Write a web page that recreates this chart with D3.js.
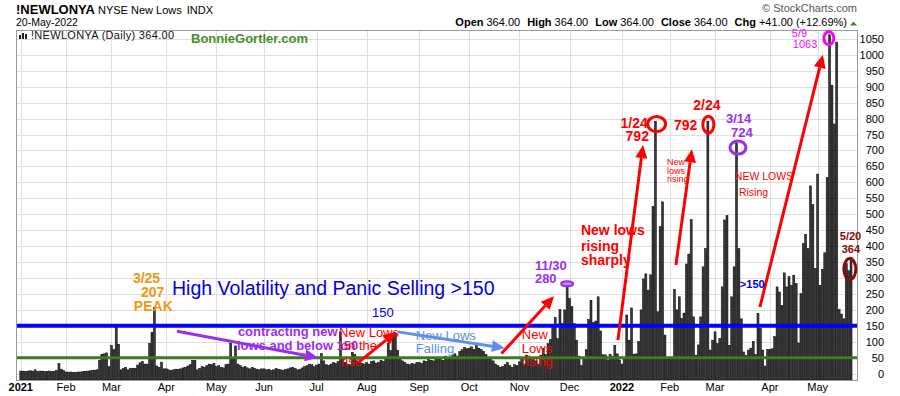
<!DOCTYPE html>
<html>
<head>
<meta charset="utf-8">
<title>!NEWLONYA NYSE New Lows</title>
<script src="https://cdn.jsdelivr.net/npm/d3@7"></script>
<style>
  body { margin: 0; background: #fff; }
  svg { display: block; font-family: "Liberation Sans", Arial, sans-serif; }
</style>
</head>
<body>
<svg width="900" height="396"></svg>
<script>
// daily NYSE new lows, one array per month
var jan21 = [8, 8, 7, 8, 9, 8, 12, 7, 8, 8, 6, 7, 8, 7, 7, 10, 32, 14, 10];
var feb21 = [5, 5, 5, 4, 4, 5, 5, 6, 7, 8, 9, 10, 11, 12, 42, 61, 62, 65, 22];
var mar21 = [88, 75, 148, 92, 12, 16, 20, 12, 17, 17, 17, 27, 34, 38, 30, 30, 95, 130, 207, 24, 20, 36, 15];
var apr21 = [15, 12, 10, 12, 14, 13, 15, 18, 20, 24, 28, 42, 42, 12, 16, 22, 20, 25, 30, 28, 32];
var may21 = [22, 25, 20, 18, 28, 30, 95, 45, 87, 30, 25, 20, 22, 18, 15, 20, 17, 14, 12, 15];
var jun21 = [15, 12, 14, 10, 12, 16, 14, 12, 10, 13, 15, 18, 20, 16, 12, 14, 18, 22, 25, 30, 28, 22];
var jul21 = [27, 30, 63, 40, 28, 25, 30, 35, 32, 38, 131, 47, 35, 30, 28, 67, 60, 40, 35, 32, 30];
var aug21 = [35, 30, 38, 40, 33, 36, 42, 38, 45, 95, 72, 121, 128, 73, 45, 40, 35, 30, 28, 32, 30, 35];
var sep21 = [35, 32, 40, 38, 45, 42, 40, 48, 50, 45, 42, 55, 48, 45, 58, 62, 55, 70, 75, 82, 78];
var oct21 = [80, 84, 76, 89, 80, 75, 70, 60, 50, 45, 40, 30, 25, 20, 22, 28, 35, 25, 20, 28, 25];
var nov21 = [37, 48, 30, 58, 55, 45, 45, 40, 30, 58, 80, 60, 94, 107, 148, 176, 110, 201, 157, 200, 280];
var dec21 = [236, 210, 157, 105, 55, 25, 50, 75, 170, 230, 160, 165, 241, 134, 59, 59, 43, 61, 55, 89, 62, 43];
var jan22 = [30, 45, 184, 105, 206, 61, 62, 101, 200, 297, 313, 262, 310, 524, 792, 194, 461, 539, 121, 45];
var feb22 = [45, 50, 264, 200, 241, 173, 190, 344, 375, 483, 178, 58, 90, 178, 335, 392, 792, 74, 105];
var mar22 = [131, 94, 110, 272, 482, 496, 89, 241, 335, 724, 392, 172, 68, 57, 74, 80, 101, 60, 189, 142, 74, 24, 75];
var apr22 = [76, 78, 116, 272, 256, 214, 316, 272, 304, 277, 309, 283, 96, 251, 408, 437, 392, 589, 530, 330];
var may22 = [626, 277, 327, 379, 616, 1063, 905, 783, 1040, 201, 187, 172, 345, 323, 364];

var holidays = ["2021-01-01", "2021-01-18", "2021-02-15", "2021-04-02", "2021-05-31", "2021-07-05",
  "2021-09-06", "2021-11-25", "2021-12-24", "2022-01-17", "2022-02-21", "2022-04-15"];
var monthLabels = ["2021", "Feb", "Mar", "Apr", "May", "Jun", "Jul", "Aug", "Sep", "Oct", "Nov", "Dec",
  "2022", "Feb", "Mar", "Apr", "May"];
var yTicks = d3.range(0, 1051, 50);

var values = [].concat(jan21, feb21, mar21, apr21, may21, jun21, jul21, aug21, sep21, oct21,
  nov21, dec21, jan22, feb22, mar22, apr22, may22);

// trading days
var fmt = d3.timeFormat("%Y-%m-%d");
var dates = d3.timeDay.range(new Date(2021, 0, 4), new Date(2022, 4, 21))
  .filter(function(d){ return d.getDay() > 0 && d.getDay() < 6 && holidays.indexOf(fmt(d)) < 0; });
if (dates.length !== values.length) console.log("length mismatch", dates.length, values.length);
var data = values.map(function(v, i){ return {i: i, date: dates[i], v: v}; });

var svg = d3.select("svg");
var plot = {left: 16, right: 857, top: 30, bottom: 380};

var x = d3.scaleLinear().domain([-2, 350.5]).range([plot.left, plot.right]);
var y = d3.scaleLinear().domain([-20, 1078]).range([plot.bottom, plot.top]);

// month starts
var monthStarts = [];
data.forEach(function(d, i){
  if (i === 0 || d.date.getMonth() !== data[i - 1].date.getMonth()) monthStarts.push(d);
});

// grid
var grid = svg.append("g");
grid.selectAll(".hg").data(yTicks).enter().append("line")
  .attr("x1", plot.left).attr("x2", plot.right)
  .attr("y1", function(d){ return Math.round(y(d)) + 0.5; })
  .attr("y2", function(d){ return Math.round(y(d)) + 0.5; })
  .attr("stroke", "#dedede");
grid.selectAll(".vg").data(monthStarts).enter().append("line")
  .attr("x1", function(d){ return Math.round(x(d.i)) + 0.5; })
  .attr("x2", function(d){ return Math.round(x(d.i)) + 0.5; })
  .attr("y1", plot.top).attr("y2", plot.bottom)
  .attr("stroke", "#dedede");

// bars
svg.append("g").selectAll("rect").data(data).enter().append("rect")
  .attr("x", function(d){ return x(d.i) - 1; })
  .attr("width", 2)
  .attr("y", function(d){ return y(d.v); })
  .attr("height", function(d){ return plot.bottom - y(d.v); })
  .attr("fill", "#3a3a3a")
  .attr("stroke", "#000")
  .attr("stroke-width", 0.5);

// 150 and 50 lines
svg.append("line").attr("x1", plot.left).attr("x2", plot.right)
  .attr("y1", y(150)).attr("y2", y(150)).attr("stroke", "#0000ff").attr("stroke-width", 4);
svg.append("line").attr("x1", plot.left).attr("x2", plot.right)
  .attr("y1", y(50)).attr("y2", y(50)).attr("stroke", "#3a7d1e").attr("stroke-width", 3);

// frame
svg.append("rect").attr("x", plot.left + 0.5).attr("y", plot.top + 0.5)
  .attr("width", plot.right - plot.left).attr("height", plot.bottom - plot.top)
  .attr("fill", "none").attr("stroke", "#9a9a9a");

// axes labels
svg.append("g").selectAll("text").data(monthStarts).enter().append("text")
  .attr("x", function(d){ return x(d.i); })
  .attr("y", 391)
  .attr("text-anchor", "middle")
  .attr("font-size", 11)
  .attr("font-weight", function(d, i){ return monthLabels[i].length === 4 ? "bold" : "normal"; })
  .text(function(d, i){ return monthLabels[i]; });

svg.append("g").selectAll("text").data(yTicks).enter().append("text")
  .attr("x", 884)
  .attr("y", function(d){ return y(d) + 4; })
  .attr("text-anchor", "end")
  .attr("font-size", 11)
  .text(function(d){ return d; });

// header
var hd = svg.append("text").attr("x", 16).attr("y", 14);
hd.append("tspan").attr("font-weight", "bold").attr("font-size", 13).text("!NEWLONYA");
hd.append("tspan").attr("font-size", 11).attr("dx", 3).text("NYSE New Lows");
hd.append("tspan").attr("font-size", 11).attr("dx", 5).text("INDX");
svg.append("text").attr("x", 16).attr("y", 26).attr("font-size", 10.5).text("20-May-2022");
svg.append("text").attr("x", 857).attr("y", 12).attr("text-anchor", "end")
  .attr("font-size", 11).attr("fill", "#555").text("\u00a9 StockCharts.com");

var ohlc = svg.append("text").attr("x", 847).attr("y", 26).attr("text-anchor", "end").attr("font-size", 11);
[["Open", "364.00"], ["High", "364.00"], ["Low", "364.00"], ["Close", "364.00"], ["Chg", "+41.00 (+12.69%)"]]
  .forEach(function(p, k){
    ohlc.append("tspan").attr("font-weight", "bold").attr("dx", k ? 7 : 0).text(p[0]);
    ohlc.append("tspan").attr("dx", 3).text(p[1]);
  });
svg.append("path").attr("d", "M850,25.5 L853.5,21.5 L857,25.5 Z").attr("fill", "#2e8b2e");

// legend inside plot
var icon = svg.append("g").attr("fill", "#222");
[[19, 35, 2, 4], [22, 33, 2, 6], [25, 34, 2, 5]].forEach(function(r){
  icon.append("rect").attr("x", r[0]).attr("y", r[1]).attr("width", r[2]).attr("height", r[3]);
});
svg.append("text").attr("x", 31).attr("y", 39).attr("font-size", 11).attr("fill", "#111")
  .attr("letter-spacing", 0.3).text("!NEWLONYA (Daily) 364.00");
svg.append("text").attr("x", 191).attr("y", 43).attr("font-size", 13).attr("font-weight", "bold")
  .attr("fill", "#4b8b2b").text("BonnieGortler.com");

// annotations, positioned in data coordinates (bar index, value)
var arrows = [
  {from: [65.5, 133], to: [124.6, 50], color: "#9a2ef0"},
  {from: [141.7, 36], to: [157.3, 131], color: "#ff0000"},
  {from: [158, 131], to: [202.9, 80], color: "#5f8fe8"},
  {from: [201.5, 63], to: [223.5, 243], color: "#ff0000"},
  {from: [250.3, 105], to: [260.8, 717], color: "#ff0000"},
  {from: [274.6, 341], to: [281.3, 704], color: "#ff0000"},
  {from: [309.8, 209], to: [336.2, 1000], color: "#ff0000"}
];

var rings = [
  {i: 229, v: 282, rx: 6, ry: 2.5, color: "#9a2ef0", fill: "#c48cf5", w: 2},
  {i: 266.5, v: 783, rx: 9, ry: 7.5, color: "#ff0000", fill: "none", w: 3},
  {i: 288.2, v: 781, rx: 5.5, ry: 8.5, color: "#ff0000", fill: "none", w: 3},
  {i: 300.6, v: 709, rx: 8, ry: 6.5, color: "#9a2ef0", fill: "none", w: 3},
  {i: 338.7, v: 1052, rx: 5, ry: 6.5, color: "#ff00ff", fill: "none", w: 3},
  {i: 347.5, v: 328, rx: 6, ry: 10.5, color: "#8b0a0a", fill: "none", w: 3}
];

var orange = "#f5960f", purple = "#9a2ef0", red = "#ff0000";
var notes = [
  {t: "3/25", i: 47.0, v: 284, c: orange, s: 14, b: 1},
  {t: "207", i: 50.4, v: 240, c: orange, s: 14, b: 1},
  {t: "PEAK", i: 47.4, v: 196, c: orange, s: 14, b: 1},
  {t: "High Volatility and Panic Selling >150", i: 63.4, v: 246, c: "#0000e6", s: 19.5, b: 0},
  {t: "150", i: 147.2, v: 177, c: "#0000e6", s: 13, b: 0},
  {t: "contracting new", i: 91.0, v: 118, c: purple, s: 13, b: 1},
  {t: "lows and below 150", i: 90.6, v: 74, c: purple, s: 13, b: 1},
  {t: "New Lows", i: 133.4, v: 115, c: red, s: 13, b: 0},
  {t: "on the", i: 134.2, v: 74, c: red, s: 13, b: 0},
  {t: "rise", i: 134.2, v: 24, c: red, s: 13, b: 0},
  {t: "New Lows", i: 165.6, v: 105, c: "#5f8fe8", s: 13, b: 0},
  {t: "Falling", i: 165.6, v: 64, c: "#5f8fe8", s: 13, b: 0},
  {t: "New", i: 210, v: 108, c: red, s: 13, b: 0},
  {t: "Lows", i: 210, v: 64, c: red, s: 13, b: 0},
  {t: "rising", i: 210, v: 24, c: red, s: 13, b: 0},
  {t: "11/30", i: 215.5, v: 325, c: purple, s: 13, b: 1},
  {t: "280", i: 215.5, v: 284, c: purple, s: 13, b: 1},
  {t: "New lows", i: 234.8, v: 435, c: red, s: 14, b: 1},
  {t: "rising", i: 234.8, v: 385, c: red, s: 14, b: 1},
  {t: "sharply", i: 234.8, v: 340, c: red, s: 14, b: 1},
  {t: "1/24", i: 251.4, v: 770, c: red, s: 14, b: 1},
  {t: "792", i: 253.5, v: 730, c: red, s: 14, b: 1},
  {t: "New", i: 270.9, v: 654, c: red, s: 9, b: 0},
  {t: "lows", i: 270.9, v: 626, c: red, s: 9, b: 0},
  {t: "rising", i: 270.9, v: 601, c: red, s: 9, b: 0},
  {t: "2/24", i: 281.9, v: 827, c: red, s: 14, b: 1},
  {t: "792", i: 273.8, v: 764, c: red, s: 14, b: 1},
  {t: "3/14", i: 295.6, v: 786, c: purple, s: 13, b: 1},
  {t: "724", i: 297.7, v: 742, c: purple, s: 13, b: 1},
  {t: "NEW LOWS", i: 299.3, v: 607, c: red, s: 10.5, b: 0},
  {t: "Rising", i: 301.0, v: 557, c: red, s: 10.5, b: 0},
  {t: ">150", i: 301.4, v: 268, c: "#0000e6", s: 11, b: 1},
  {t: "5/9", i: 323.2, v: 1056, c: "#ff00ff", s: 11, b: 0},
  {t: "1063", i: 323.6, v: 1022, c: "#ff00ff", s: 11, b: 0},
  {t: "5/20", i: 343.3, v: 419, c: "#8b0a0a", s: 11, b: 1},
  {t: "364", i: 344.1, v: 378, c: "#8b0a0a", s: 11, b: 1}
];

var ann = svg.append("g");
arrows.forEach(function(a){
  var x1 = x(a.from[0]), y1 = y(a.from[1]), x2 = x(a.to[0]), y2 = y(a.to[1]);
  var ang = Math.atan2(y2 - y1, x2 - x1), len = 13, half = 6;
  var bx = x2 - len * Math.cos(ang), by = y2 - len * Math.sin(ang);
  ann.append("line").attr("x1", x1).attr("y1", y1).attr("x2", bx).attr("y2", by)
    .attr("stroke", a.color).attr("stroke-width", 3);
  var pts = [[x2, y2],
    [bx + half * Math.sin(ang), by - half * Math.cos(ang)],
    [bx - half * Math.sin(ang), by + half * Math.cos(ang)]];
  ann.append("polygon").attr("points", pts.map(function(p){ return p.join(","); }).join(" "))
    .attr("fill", a.color);
});

ann.selectAll("ellipse").data(rings).enter().append("ellipse")
  .attr("cx", function(d){ return x(d.i); })
  .attr("cy", function(d){ return y(d.v); })
  .attr("rx", function(d){ return d.rx; })
  .attr("ry", function(d){ return d.ry; })
  .attr("fill", function(d){ return d.fill; })
  .attr("stroke", function(d){ return d.color; })
  .attr("stroke-width", function(d){ return d.w; });

ann.selectAll("text").data(notes).enter().append("text")
  .attr("x", function(d){ return x(d.i); })
  .attr("y", function(d){ return y(d.v); })
  .attr("font-size", function(d){ return d.s; })
  .attr("font-weight", function(d){ return d.b ? "bold" : "normal"; })
  .attr("fill", function(d){ return d.c; })
  .text(function(d){ return d.t; });
</script>
</body>
</html>
